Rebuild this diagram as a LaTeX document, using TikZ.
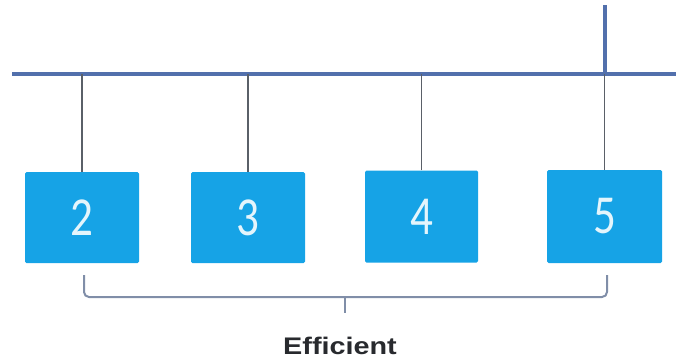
\documentclass[tikz,border=0pt]{standalone}
\usepackage{fontspec}
\setmainfont{Liberation Sans}
\newfontfamily\digitfont{Carlito}
\definecolor{boxblue}{RGB}{22,163,230}
\definecolor{busblue}{RGB}{82,112,172}
\definecolor{dropgray}{RGB}{90,96,104}
\definecolor{bracegray}{RGB}{128,142,168}
\definecolor{digitwhite}{RGB}{228,245,252}
\definecolor{labeldark}{RGB}{40,42,46}
\tikzset{
  hostbox/.style={fill=boxblue, draw=none, rounded corners=1.5pt, minimum width=114pt, minimum height=91pt, inner sep=0pt,
    font=\digitfont\fontsize{55}{55}\selectfont, text=digitwhite},
  busline/.style={line width=4pt, draw=busblue},
  dropline/.style={line width=1.6pt, draw=dropgray},
  braceline/.style={line width=2pt, draw=bracegray, rounded corners=5pt},
}
\begin{document}
\begin{tikzpicture}[x=1pt,y=-1pt]
\useasboundingbox (0,0) rectangle (676,360);
\coordinate (busL) at (12,74);
\coordinate (busR) at (676,74);
\coordinate (upT) at (605,5);
\coordinate (upB) at (605,74);
\draw[busline] (busL) -- (busR);
\draw[busline] (upT) -- (upB);
\node[hostbox] (b2) at (82,217.5) {\scalebox{0.82}[1]{2}};
\node[hostbox] (b3) at (248,217.5) {\scalebox{0.82}[1]{3}};
\node[hostbox, minimum width=113pt, minimum height=92pt] (b4) at (421.5,216.5) {\scalebox{0.82}[1]{4}};
\node[hostbox, minimum width=115pt, minimum height=93pt] (b5) at (604.5,216.5) {\scalebox{0.82}[1]{5}};
\foreach \b in {b2,b3,b4,b5}{
  \draw[dropline] (\b.north) -- (\b.north |- busL);
}
\coordinate (brL) at (84,275);
\coordinate (brM) at (345,297);
\coordinate (brR) at (607,275);
\coordinate (brT) at (345,313);
\draw[braceline] (brL) |- (brM) -| (brR);
\draw[braceline] (brM) -- (brT);
\node[font=\bfseries\fontsize{24}{24}\selectfont, text=labeldark, anchor=base] (lab) at (340,354) {\scalebox{1.2}[1]{Efficient}};
\end{tikzpicture}
\end{document}
